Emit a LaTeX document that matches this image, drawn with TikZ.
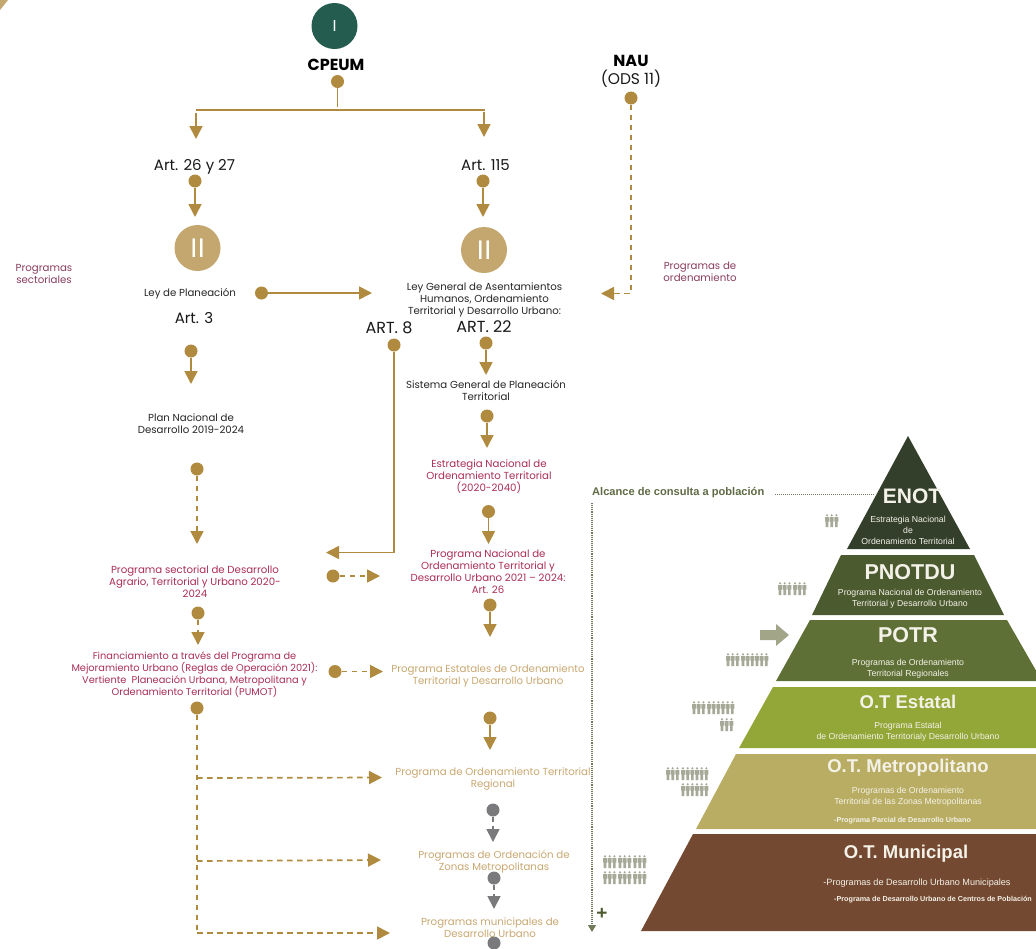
\documentclass[tikz,border=0pt]{standalone}
\usepackage{fontspec}
\setmainfont{Poppins}
\newfontfamily\pyr{Liberation Sans}
\usetikzlibrary{arrows.meta}
\definecolor{gold}{HTML}{B08A3E}
\definecolor{tan}{HTML}{C4A76F}
\definecolor{deepgreen}{HTML}{245D4F}
\definecolor{wine}{HTML}{A92F56}
\definecolor{plum}{HTML}{8A3E5E}
\definecolor{pale}{HTML}{C9A872}
\definecolor{stone}{HTML}{7A7A7C}
\definecolor{scope}{HTML}{6F7A58}
\definecolor{scopetext}{HTML}{5F6B45}
\definecolor{folkc}{HTML}{A7A998}
\definecolor{lay1}{HTML}{333F2B}
\definecolor{lay2}{HTML}{4B5A2F}
\definecolor{lay3}{HTML}{5F7036}
\definecolor{lay4}{HTML}{93A638}
\definecolor{lay5}{HTML}{B9AD63}
\definecolor{lay6}{HTML}{744931}
\definecolor{wht}{HTML}{F4F2E8}
\tikzset{
  x=1pt,y=-1pt,
  dot/.style={circle,fill=gold,inner sep=0pt,minimum size=13pt},
  greydot/.style={circle,fill=stone,inner sep=0pt,minimum size=13pt},
  big/.style={circle,inner sep=0pt,minimum size=46pt,text=white},
  conn/.style={draw=gold,line width=1.7pt,-{Triangle[width=13pt,length=13pt]}},
  dconn/.style={conn,dash pattern=on 5.5pt off 4.5pt},
  greyconn/.style={conn,draw=stone,dash pattern=on 5pt off 4.5pt},
  plain/.style={draw=gold,line width=1.7pt},
  lbl/.style={align=center,inner sep=0pt,yshift=-1pt,font=\fontsize{10.2}{12}\selectfont},
  dark/.style={lbl,text=black!85},
  red/.style={lbl,text=wine},
  soft/.style={lbl,text=pale},
  purple/.style={lbl,text=plum},
  art/.style={inner sep=0pt,font=\fontsize{15}{16}\selectfont,text=black!90},
  artcap/.style={art,font=\fontsize{16}{16}\selectfont},
  head/.style={inner sep=0pt,yshift=-1.5pt,font=\pyr\bfseries\fontsize{18.5}{20}\selectfont,text=wht},
  bighead/.style={head,font=\pyr\bfseries\fontsize{21.5}{22}\selectfont},
  sub/.style={align=center,inner sep=0pt,yshift=-1pt,font=\pyr\fontsize{8.7}{11}\selectfont,text=wht},
  tiny/.style={inner sep=0pt,font=\pyr\bfseries\fontsize{7.2}{8}\selectfont,text=wht},
  folk/.pic={
    \foreach \q in {2,6.7,11.4}{
      \fill[folkc] (\q,1.3) circle (1.2pt);
      \fill[folkc] (\q-2,3.2) -- (\q+2,3.2) -- (\q+2,7.5) -- (\q+1.3,7.5) -- (\q+1.3,13) -- (\q-1.3,13) -- (\q-1.3,7.5) -- (\q-2,7.5) -- cycle;
    }
  }
}
\begin{document}
\begin{tikzpicture}
\clip (0,0) rectangle (1036,948);
\fill[white] (0,0) rectangle (1036,948);
\fill[tan] (0,0) -- (8,0) -- (0,10) -- cycle;

% pyramid
\fill[lay1] (908,436) -- (970,549) -- (847,549) -- cycle;
\fill[lay2] (841,555) -- (974,555) -- (1004,615) -- (812,615) -- cycle;
\fill[lay3] (810,620) -- (1007,620) -- (1042,681) -- (776,681) -- cycle;
\fill[lay4] (773,687) -- (1044,687) -- (1078,748) -- (739,748) -- cycle;
\fill[lay5] (736,754) -- (1080,754) -- (1120,829) -- (696,829) -- cycle;
\fill[lay6] (693,834) -- (1123,834) -- (1175,931) -- (641,931) -- cycle;

\node[head,font=\pyr\bfseries\fontsize{21}{22}\selectfont] (enot) at (912,495) {ENOT};
\node[sub] (enots) at (908,529.5) {Estrategia Nacional\\de\\Ordenamiento Territorial};
\node[bighead] (pnotdu) at (910,571) {PNOTDU};
\node[sub] (pnotdus) at (910,598) {Programa Nacional de Ordenamiento\\Territorial y Desarrollo Urbano};
\node[bighead] (potr) at (908,634) {POTR};
\node[sub] (potrs) at (908,667.5) {Programas de Ordenamiento\\Territorial Regionales};
\node[head] (est) at (908,700) {O.T Estatal};
\node[sub] (ests) at (908,730.5) {Programa Estatal\\de Ordenamiento Territorialy Desarrollo Urbano};
\node[head] (met) at (908,766) {O.T. Metropolitano};
\node[sub] (mets) at (908,795.5) {Programas de Ordenamiento\\Territorial de las Zonas Metropolitanas};
\node[tiny,anchor=west] (metp) at (834,821) {-Programa Parcial de Desarrollo Urbano};
\node[head] (mun) at (906,852) {O.T. Municipal};
\node[sub,font=\pyr\fontsize{9.1}{11}\selectfont] (muns) at (917,882) {-Programas de Desarrollo Urbano Municipales};
\node[tiny,anchor=west] (munp) at (834,900) {-Programa de Desarrollo Urbano de Centros de Población};

% people
\pic at (825,514) {folk};
\pic at (778,582) {folk}; \pic at (793,582) {folk};
\pic at (726,653) {folk}; \pic at (741,653) {folk}; \pic at (755,653) {folk};
\pic at (692,701) {folk}; \pic at (707,701) {folk}; \pic at (721,701) {folk};
\pic at (720,718) {folk};
\pic at (666,767) {folk}; \pic at (681,767) {folk}; \pic at (695,767) {folk};
\pic at (681,783) {folk}; \pic at (695,783) {folk};
\pic at (603,855) {folk}; \pic at (618,855) {folk}; \pic at (633,855) {folk};
\pic at (603,871) {folk}; \pic at (618,871) {folk}; \pic at (633,871) {folk};

% block arrow, scope line
\fill[folkc!90!olive] (760,630) -- (776,630) -- (776,624) -- (789,635) -- (776,646) -- (776,640) -- (760,640) -- cycle;
\node[inner sep=0pt,anchor=west,font=\pyr\bfseries\fontsize{11.1}{12}\selectfont,text=scopetext] (alc) at (592,493) {Alcance de consulta a población};
\coordinate (sa) at (775,494); \coordinate (sb) at (875,494);
\draw[scope,densely dotted,line width=1pt] (sa) -- (sb);
\coordinate (va) at (592,503); \coordinate (vb) at (592,932);
\draw[scope,densely dotted,line width=1.1pt,-{Triangle[width=8pt,length=7pt]}] (va) -- (vb);
\node[inner sep=0pt,font=\pyr\bfseries\fontsize{19}{20}\selectfont,text=lay2] (plus) at (602,914) {+};

% top
\node[big,fill=deepgreen,font=\pyr\fontsize{16}{18}\selectfont] (one) at (334.5,26) {I};
\node[inner sep=0pt,font=\bfseries\fontsize{16}{16}\selectfont,text=black] (cpeum) at (336,65) {CPEUM};
\node[dot] (d0) at (337.5,81.5) {};
\coordinate (s0) at (337.5,107);
\draw[plain] (d0) -- (s0);
\coordinate (hl) at (196,110); \coordinate (hr) at (485,110);
\draw[plain] (hl) -- (hr);
\coordinate (al0) at (196,113); \coordinate (al1) at (196,139);
\coordinate (ar0) at (484,112); \coordinate (ar1) at (484,137);
\draw[conn] (al0) -- (al1);
\draw[conn] (ar0) -- (ar1);

\node[art] (a26) at (194.5,167) {Art. 26 y 27};
\node[art] (a115) at (485.5,165) {Art. 115};
\node[dot] (d26) at (195,181) {};
\node[dot] (d115) at (483,181) {};
\coordinate (t26) at (195,217); \coordinate (t115) at (483,217);
\draw[conn] (d26) -- (t26);
\draw[conn] (d115) -- (t115);
\node[big,fill=tan,font=\pyr\fontsize{27}{28}\selectfont] (iil) at (197.5,248) {II};
\node[big,fill=tan,font=\pyr\fontsize{27}{28}\selectfont] (iir) at (484,250) {II};

\node[purple] (sect) at (44,273) {Programas\\ sectoriales};
\node[dark] (ley) at (190,292.5) {Ley de Planeación};
\node[dot] (dley) at (261.5,293) {};
\coordinate (tley) at (372,293);
\draw[conn] (dley) -- (tley);
\node[art] (a3) at (194,318) {Art. 3};
\node[dark] (lgah) at (484.5,299) {Ley General de Asentamientos\\Humanos, Ordenamiento\\Territorial y Desarrollo Urbano:};
\node[artcap] (a22) at (484,327) {ART. 22};
\node[artcap] (a8) at (389,328) {ART. 8};

\node[dot] (d8) at (394,345) {};
\coordinate (c8) at (394,552.5); \coordinate (t8) at (326,552.5);
\draw[conn] (d8) -- (c8) -- (t8);
\node[dot] (d22) at (486,343) {};
\coordinate (t22) at (486,375);
\draw[conn] (d22) -- (t22);

\node[inner sep=0pt,font=\bfseries\fontsize{16}{16}\selectfont,text=black] (nau) at (631,61) {NAU};
\node[art,font=\fontsize{15.5}{16}\selectfont] (ods) at (631,79) {(ODS 11)};
\node[dot] (dnau) at (631,98) {};
\coordinate (cnau) at (631,293.5); \coordinate (tnau) at (601,293.5);
\draw[dconn] (dnau) -- (cnau) -- (tnau);
\node[purple] (prord) at (700,270.5) {Programas de\\ordenamiento};

\node[dark] (sis) at (486,390) {Sistema General de Planeación\\Territorial};
\node[dot] (dsis) at (487,416) {};
\coordinate (tsis) at (487,448);
\draw[conn] (dsis) -- (tsis);
\node[red] (enotx) at (489,476) {Estrategia Nacional de\\Ordenamiento Territorial\\(2020-2040)};
\node[dot] (denot) at (488.5,511.5) {};
\coordinate (tenot) at (488.5,544);
\draw[conn] (denot) -- (tenot);

\node[dot] (d3) at (191,351) {};
\coordinate (t3) at (191,384);
\draw[conn] (d3) -- (t3);
\node[dark] (pnd) at (191,423) {Plan Nacional de\\Desarrollo 2019-2024};
\node[dot] (dpnd) at (197,469) {};
\coordinate (tpnd) at (197,544);
\draw[dconn] (dpnd) -- (tpnd);

\node[red] (psec) at (195,580.5) {Programa sectorial de Desarrollo\\Agrario, Territorial y Urbano 2020-\\2024};
\node[dot] (dsec) at (198,613) {};
\coordinate (tsec) at (198,645);
\draw[dconn] (dsec) -- (tsec);
\node[dot] (dsecr) at (333,576) {};
\coordinate (tsecr) at (380,576);
\draw[dconn] (dsecr) -- (tsecr);

\node[red] (pnac) at (488,571) {Programa Nacional de\\Ordenamiento Territorial y\\Desarrollo Urbano 2021 – 2024:\\Art. 26};
\node[dot] (dnac) at (490,605) {};
\coordinate (tnac) at (490,637);
\draw[conn] (dnac) -- (tnac);

\node[red,font=\fontsize{9.8}{12}\selectfont] (fin) at (194.5,673.5) {Financiamiento a través del Programa de\\Mejoramiento Urbano (Reglas de Operación 2021):\\Vertiente \ Planeación Urbana, Metropolitana y\\Ordenamiento Territorial (PUMOT)};
\node[dot] (dfinr) at (335,671.5) {};
\coordinate (tfinr) at (383,671.5);
\draw[dconn] (dfinr) -- (tfinr);
\node[soft] (pest) at (488,674.5) {Programa Estatales de Ordenamiento\\Territorial y Desarrollo Urbano};
\node[dot] (dest) at (490,718) {};
\coordinate (test) at (490,750);
\draw[conn] (dest) -- (test);

\node[dot] (dfin) at (197,708) {};
\coordinate (cb) at (197,933);
\draw[plain,dash pattern=on 5.5pt off 4.5pt] (dfin) -- (cb);
\coordinate (b1) at (197,778); \coordinate (t1) at (382,777.5);
\coordinate (b2) at (197,861); \coordinate (t2) at (381,860);
\coordinate (t4) at (390,933);
\draw[dconn] (b1) -- (t1);
\draw[dconn] (b2) -- (t2);
\draw[dconn] (cb) -- (t4);

\node[soft] (preg) at (493,777.5) {Programa de Ordenamiento Territorial\\Regional};
\node[greydot] (dreg) at (493,810) {};
\coordinate (treg) at (493,842);
\draw[greyconn] (dreg) -- (treg);
\node[soft] (pzm) at (494,861) {Programas de Ordenación de\\Zonas Metropolitanas};
\node[greydot] (dzm) at (494,878) {};
\coordinate (tzm) at (494,909);
\draw[greyconn] (dzm) -- (tzm);
\node[soft] (pmun) at (490,926.5) {Programas municipales de\\Desarrollo Urbano};
\node[greydot] (dmun) at (494,943) {};
\end{tikzpicture}
\end{document}
